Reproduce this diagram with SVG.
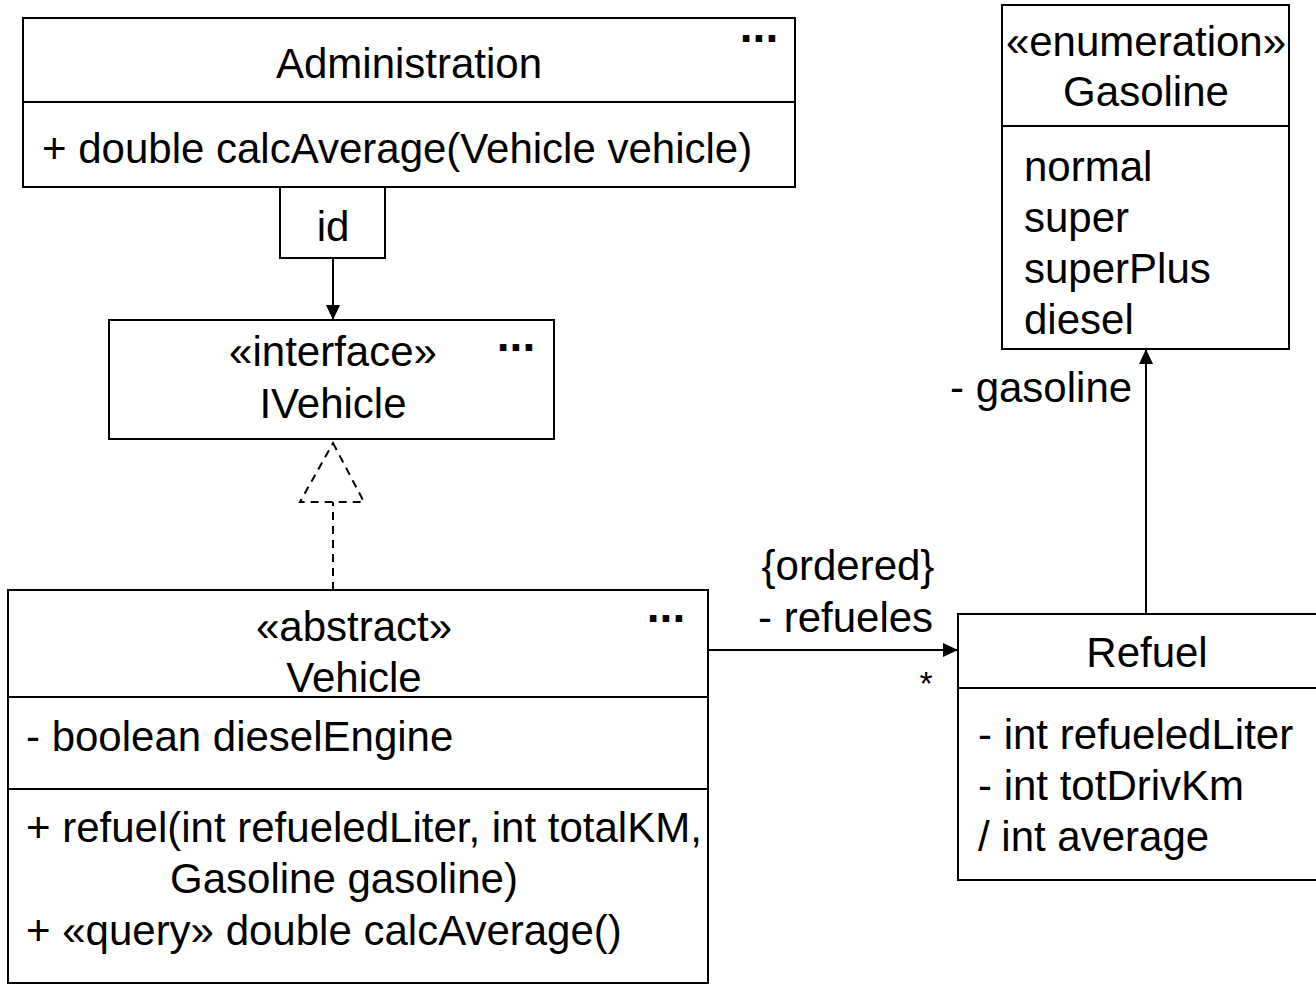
<svg xmlns="http://www.w3.org/2000/svg" width="1316" height="987" viewBox="0 0 1316 987">
<style>
text{font-family:"Liberation Sans",Arial,sans-serif;font-size:42px;fill:#000}
.c{text-anchor:middle}
.dots{font-weight:bold;font-size:46px}
.box{fill:#fff;stroke:#000;stroke-width:2}
.ln{stroke:#000;stroke-width:2;fill:none}
.dash{stroke:#000;stroke-width:2;fill:none;stroke-dasharray:8,6}
</style>
<defs>
<marker id="arr" viewBox="0 0 15 14" refX="15" refY="7" markerWidth="15" markerHeight="14" markerUnits="userSpaceOnUse" orient="auto">
<path d="M0,0 L15,7 L0,14 Z" fill="#000"/>
</marker>
</defs>
<rect width="1316" height="987" fill="#fff"/>
<g id="connectors">
<line class="ln" x1="333" y1="258" x2="333" y2="320" marker-end="url(#arr)"/>
<line class="dash" x1="333" y1="590" x2="333" y2="502"/>
<path class="dash" d="M333,443 L364,502 L300,502 Z" fill="#fff"/>
<line class="ln" x1="705" y1="650" x2="958" y2="650" marker-end="url(#arr)"/>
<text x="848" y="580" class="c">{ordered}</text>
<text x="758" y="632">- refueles</text>
<text x="926" y="695" class="c" style="font-size:34px">*</text>
<line class="ln" x1="1146" y1="614" x2="1146" y2="349" marker-end="url(#arr)"/>
<text x="950" y="402">- gasoline</text>
</g>
<g id="Administration">
<rect class="box" x="23" y="18" width="772" height="169"/>
<line class="ln" x1="23" y1="102" x2="795" y2="102"/>
<text x="409" y="78" class="c">Administration</text>
<text x="759" y="42" class="c dots">...</text>
<text x="42" y="163">+ double calcAverage(Vehicle vehicle)</text>
</g>
<g id="qualifier">
<rect class="box" x="280" y="187" width="105" height="71"/>
<text x="333" y="241" class="c">id</text>
</g>
<g id="IVehicle">
<rect class="box" x="109" y="320" width="445" height="119"/>
<text x="333" y="366" class="c">«interface»</text>
<text x="333" y="418" class="c">IVehicle</text>
<text x="516" y="351" class="c dots">...</text>
</g>
<g id="Vehicle">
<rect class="box" x="8" y="590" width="700" height="393"/>
<line class="ln" x1="8" y1="697" x2="708" y2="697"/>
<line class="ln" x1="8" y1="789" x2="708" y2="789"/>
<text x="354" y="641" class="c">«abstract»</text>
<text x="354" y="692" class="c">Vehicle</text>
<text x="666" y="622" class="c dots">...</text>
<text x="26" y="751">- boolean dieselEngine</text>
<text x="26" y="842">+ refuel(int refueledLiter, int totalKM,</text>
<text x="170" y="893">Gasoline gasoline)</text>
<text x="26" y="945">+ «query» double calcAverage()</text>
</g>
<g id="Refuel">
<rect class="box" x="958" y="614" width="360" height="266"/>
<line class="ln" x1="958" y1="688" x2="1318" y2="688"/>
<text x="1147" y="667" class="c">Refuel</text>
<text x="978" y="749">- int refueledLiter</text>
<text x="978" y="800">- int totDrivKm</text>
<text x="978" y="851">/ int average</text>
</g>
<g id="Gasoline">
<rect class="box" x="1002" y="5" width="287" height="344"/>
<line class="ln" x1="1002" y1="126" x2="1289" y2="126"/>
<text x="1146" y="56" class="c">«enumeration»</text>
<text x="1146" y="106" class="c">Gasoline</text>
<text x="1024" y="181">normal</text>
<text x="1024" y="232">super</text>
<text x="1024" y="283">superPlus</text>
<text x="1024" y="334">diesel</text>
</g>
</svg>
